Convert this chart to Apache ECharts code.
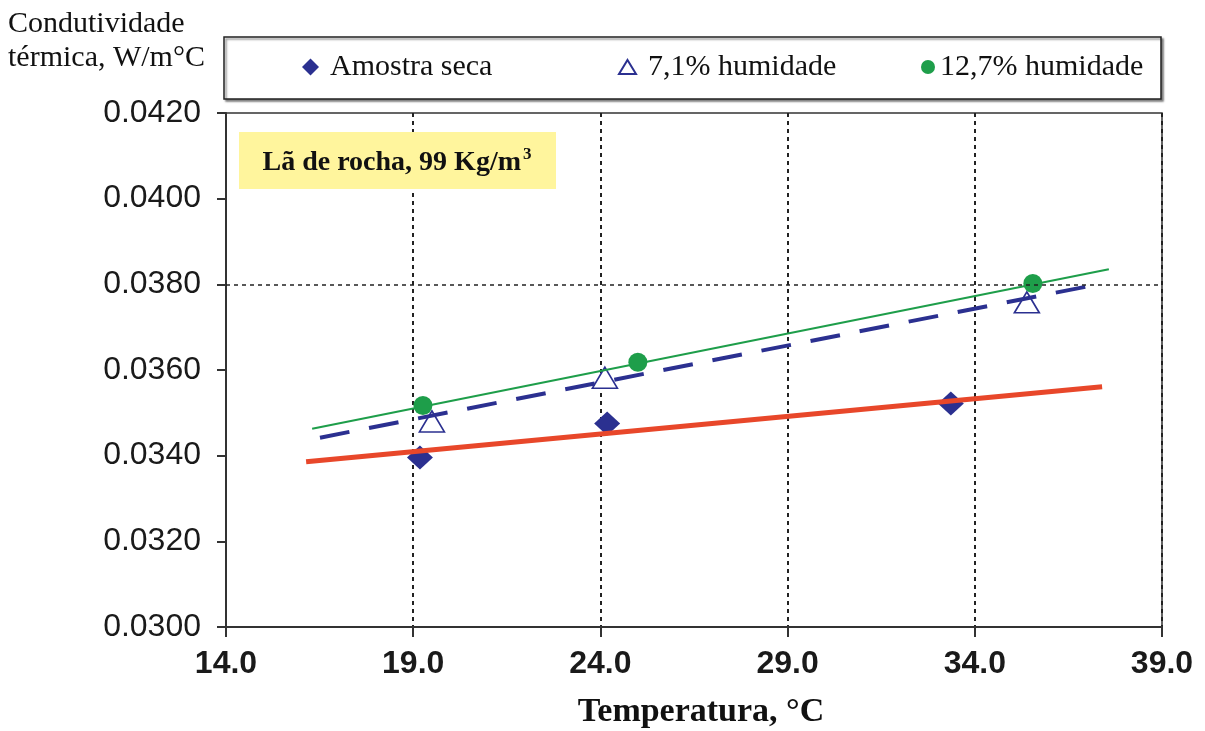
<!DOCTYPE html>
<html>
<head>
<meta charset="utf-8">
<script src="https://cdn.jsdelivr.net/npm/echarts@6/dist/echarts.min.js"></script>
<style>html,body{margin:0;padding:0;background:#fff}#c{width:1205px;height:731px}</style>
</head>
<body>
<div id="c"></div>
<script>
// ---- data ----
const seriesNames = ['Amostra seca', '7,1% humidade', '12,7% humidade'];
const xAxisRange = [14, 39, 5];          // min, max, interval
const yAxisRange = [0.030, 0.042, 0.002]; // min, max, interval
const refLineY = 0.038;

const secaX = [19.18, 24.18, 33.36];
const secaY = [0.03396, 0.03475, 0.03522];
const hum71X = [19.50, 24.12, 35.39];
const hum71Y = [0.03480, 0.03582, 0.03758];
const hum127X = [19.26, 25.00, 35.55];
const hum127Y = [0.03517, 0.03618, 0.03802];

// trend lines (start/end)
const trendSecaX = [16.14, 37.40];
const trendSecaY = [0.03386, 0.03561];
const trend71X = [16.51, 37.00];
const trend71Y = [0.03442, 0.03795];
const trend127X = [16.30, 37.58];
const trend127Y = [0.03463, 0.03835];

const yTitle = ['Condutividade', 'térmica, W/m°C'];
const xTitle = 'Temperatura, °C';
const note = 'Lã de rocha, 99 Kg/m';

const zip = (xs, ys) => xs.map((x, i) => [x, ys[i]]);

const NAVY = '#2B3090', RED = '#E8472A', GREEN = '#1E9E4A';
const SERIF = '"Liberation Serif", "Times New Roman", serif';
const SANS = '"Liberation Sans", Arial, sans-serif';

const chart = echarts.init(document.getElementById('c'), null, {renderer: 'canvas'});

const legendBase = {
  top: 52, padding: 0, itemGap: 0,
  textStyle: {fontFamily: SERIF, fontSize: 30, color: '#111', lineHeight: 30}
};

chart.setOption({
  animation: false,
  backgroundColor: '#fff',
  grid: {left: 226, right: 43, top: 113, bottom: 104, show: true, borderColor: '#333', borderWidth: 1.5, backgroundColor: 'transparent'},
  xAxis: {
    type: 'value', min: xAxisRange[0], max: xAxisRange[1], interval: xAxisRange[2],
    axisLine: {lineStyle: {color: '#333', width: 2}},
    axisTick: {show: true, inside: false, length: 10, lineStyle: {color: '#333', width: 2}},
    axisLabel: {margin: 21, fontFamily: SANS, fontSize: 32, fontWeight: 'bold', color: '#1a1a1a', formatter: v => v.toFixed(1)},
    splitLine: {show: true, lineStyle: {color: '#222', width: 2, type: [4, 4]}}
  },
  yAxis: {
    type: 'value', min: yAxisRange[0], max: yAxisRange[1], interval: yAxisRange[2],
    axisLine: {show: true, lineStyle: {color: '#333', width: 2}},
    axisTick: {show: true, inside: false, length: 9, lineStyle: {color: '#333', width: 2}},
    axisLabel: {margin: 25, fontFamily: SANS, fontSize: 32, color: '#1a1a1a', formatter: v => v.toFixed(4)},
    splitLine: {show: false}
  },
  legend: [
    Object.assign({}, legendBase, {left: 302, data: [seriesNames[0]], itemWidth: 17, itemHeight: 17, textStyle: Object.assign({}, legendBase.textStyle, {padding: [0, 0, 0, 6]})}),
    Object.assign({}, legendBase, {left: 618, data: [seriesNames[1]], itemWidth: 17, itemHeight: 14, textStyle: Object.assign({}, legendBase.textStyle, {padding: [0, 0, 0, 7]})}),
    Object.assign({}, legendBase, {left: 921, data: [seriesNames[2]], itemWidth: 14, itemHeight: 14, textStyle: Object.assign({}, legendBase.textStyle, {padding: [0, 0, 0, 0]})})
  ],
  graphic: [
    {type: 'rect', z: 1, shape: {x: 224, y: 37, width: 937, height: 62},
     style: {fill: '#fff', stroke: '#222', lineWidth: 1.5, shadowColor: 'rgba(0,0,0,0.45)', shadowBlur: 2, shadowOffsetX: 2, shadowOffsetY: 2}},
    {type: 'rect', z: 5, shape: {x: 239, y: 132, width: 317, height: 57}, style: {fill: '#FFF59D'}},
    {type: 'text', z: 6, x: 397, y: 163,
     style: {text: '{a|' + note + '}{s|3}', textAlign: 'center', textVerticalAlign: 'middle',
       rich: {a: {fontFamily: SERIF, fontSize: 28, fontWeight: 'bold', fill: '#111', color: '#111'},
              s: {fontFamily: SERIF, fontSize: 17, fontWeight: 'bold', fill: '#111', color: '#111', verticalAlign: 'top', padding: [0, 0, 16, 2]}}}},
    {type: 'text', x: 8, y: 24, style: {text: yTitle[0], font: '30px ' + SERIF, fill: '#111', textVerticalAlign: 'middle'}},
    {type: 'text', x: 8, y: 58, style: {text: yTitle[1], font: '30px ' + SERIF, fill: '#111', textVerticalAlign: 'middle'}},
    {type: 'text', x: 701, y: 712, style: {text: xTitle, font: 'bold 34px ' + SERIF, fill: '#111', textAlign: 'center', textVerticalAlign: 'middle'}}
  ],
  series: [
    {name: seriesNames[0], type: 'scatter', data: zip(secaX, secaY), symbol: 'diamond', symbolSize: [26, 24],
     itemStyle: {color: NAVY, opacity: 1}},
    {name: seriesNames[1], type: 'scatter', data: zip(hum71X, hum71Y), symbol: 'triangle', symbolSize: [25, 21],
     itemStyle: {color: '#fff', borderColor: NAVY, borderWidth: 1.6, opacity: 1}},
    {name: seriesNames[2], type: 'scatter', data: zip(hum127X, hum127Y), symbol: 'circle', symbolSize: 19, z: 4,
     itemStyle: {color: GREEN, opacity: 1}},
    {name: 'tend-seca', type: 'line', data: zip(trendSecaX, trendSecaY), showSymbol: false, symbol: 'none', z: 3,
     lineStyle: {color: RED, width: 5},
     markLine: {silent: true, symbol: 'none', precision: 5, label: {show: false}, data: [{yAxis: refLineY}],
       lineStyle: {color: '#222', width: 1.5, type: [4, 4]}}},
    {name: 'tend-71', type: 'line', data: zip(trend71X, trend71Y), showSymbol: false, symbol: 'none', z: 3,
     lineStyle: {color: NAVY, width: 4, type: [30, 20]}},
    {name: 'tend-127', type: 'line', data: zip(trend127X, trend127Y), showSymbol: false, symbol: 'none', z: 3,
     lineStyle: {color: GREEN, width: 2}}
  ]
});
</script>
</body>
</html>
